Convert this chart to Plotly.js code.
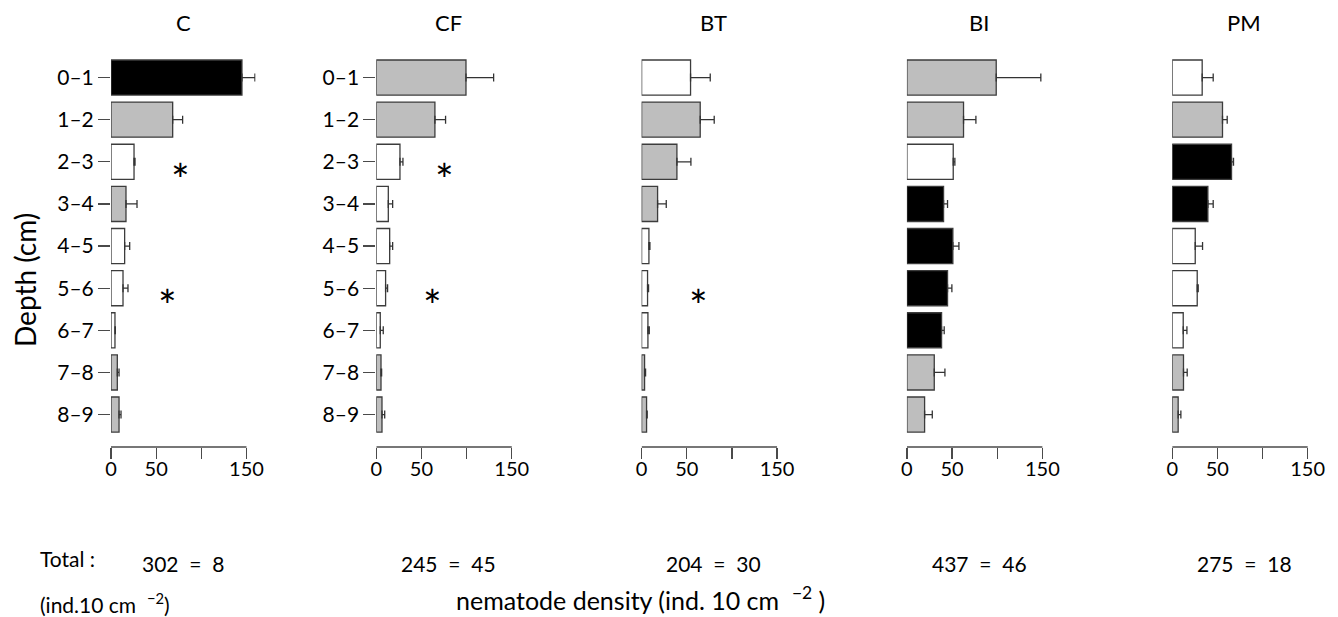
<!DOCTYPE html>
<html>
<head>
<meta charset="utf-8">
<script src="https://cdn.plot.ly/plotly-3.0.1.min.js"></script>
<style>html,body{margin:0;padding:0;background:#fff;}#chart{width:1338px;height:617px;}</style>
</head>
<body>
<div id="chart"></div>
<script>
// ---- data ----
const depths = ['0–1','1–2','2–3','3–4','4–5','5–6','6–7','7–8','8–9'];
const sites = ['C','CF','BT','BI','PM'];

const densC  = [145.0, 68.3, 25.5, 16.6, 15.1, 13.3, 4.4, 7.0, 8.9];
const seC    = [14.4, 11.0, 1.1, 12.2, 5.6, 5.5, 0.4, 1.9, 2.2];
const fillC  = ['k','g','w','g','w','w','w','g','g'];

const densCF = [99.3, 64.9, 26.2, 13.3, 14.8, 10.3, 4.4, 5.2, 6.3];
const seCF   = [30.6, 11.8, 3.3, 4.8, 3.3, 2.2, 3.3, 0.7, 3.0];
const fillCF = ['g','g','w','w','w','w','w','g','g'];

const densBT = [54.2, 64.9, 39.1, 17.7, 8.1, 6.6, 7.0, 3.3, 5.5];
const seBT   = [21.8, 15.5, 15.5, 9.6, 1.1, 1.1, 1.5, 1.1, 0.7];
const fillBT = ['w','g','g','g','w','w','w','g','g'];

const densBI = [98.9, 62.7, 51.3, 40.6, 50.9, 45.0, 38.4, 30.3, 19.6];
const seBI   = [49.4, 13.7, 1.8, 4.4, 6.7, 4.8, 2.9, 11.8, 8.5];
const fillBI = ['g','g','w','k','k','k','k','g','g'];

const densPM = [33.2, 55.7, 65.7, 39.5, 25.5, 27.7, 12.2, 12.5, 6.6];
const sePM   = [12.2, 5.2, 2.2, 5.9, 8.1, 1.1, 4.1, 4.1, 3.0];
const fillPM = ['w','g','k','k','w','w','w','g','g'];

const totalMean = [302, 245, 204, 437, 275];
const totalSE   = [8, 45, 30, 46, 18];

// significance asterisks: panel index, depth label, x position (density units)
const starPanel = [0, 0, 1, 1, 2];
const starDepth = ['2–3', '5–6', '2–3', '5–6', '5–6'];
const starX     = [76.5, 63, 75.6, 62.7, 63.4];

const xTickVals = [0, 50, 100, 150];
const xTickText = ['0', '50', '', '150'];

// ---- build ----
const dens = [densC, densCF, densBT, densBI, densPM];
const ses  = [seC, seCF, seBT, seBI, sePM];
const fills = [fillC, fillCF, fillBT, fillBI, fillPM];
const colorMap = {k: '#000000', g: '#bebebe', w: '#ffffff'};

const W = 1338, H = 617;
const FONT = 'Lato, "Open Sans", sans-serif';
const lineCol = '#4a4a4a';
const plotTop = 45.1, plotBot = 447;
const firstLeft = 111, panelStep = 265.3, panelW = 144.5;
const xMax = 160;
const NB = '\u00a0';

const traces = [];
const layout = {
  width: W, height: H, autosize: false,
  margin: {l: 0, r: 0, t: 0, b: 0},
  paper_bgcolor: '#fff', plot_bgcolor: 'rgba(0,0,0,0)',
  showlegend: false,
  bargap: 1 - 1/1.2,
  font: {family: FONT, color: '#000', size: 18},
  shapes: [], annotations: []
};

sites.forEach((s, i) => {
  const n = i === 0 ? '' : String(i + 1);
  traces.push({
    type: 'bar', orientation: 'h',
    x: dens[i], y: depths,
    xaxis: 'x' + n, yaxis: 'y' + n,
    marker: {color: fills[i].map(c => colorMap[c]), line: {color: '#3c3c3c', width: 1.3}},
    error_x: {type: 'data', symmetric: false, array: ses[i], arrayminus: ses[i].map(() => 0),
              color: '#333', thickness: 1.3, width: 4},
    hoverinfo: 'x+y'
  });
  const left = (firstLeft + panelStep * i) / W;
  const right = (firstLeft + panelStep * i + panelW) / W;
  layout['xaxis' + n] = {
    domain: [left, right], range: [0, xMax], anchor: 'y' + n,
    tickvals: xTickVals, ticktext: xTickText,
    ticks: 'outside', ticklen: 11, tickwidth: 1.3, tickcolor: lineCol,
    ticklabelstandoff: -7,
    showline: false, showgrid: false, zeroline: false,
    tickfont: {size: 20, family: FONT}, fixedrange: true
  };
  const showY = i < 2;
  layout['yaxis' + n] = {
    domain: [1 - plotBot / H, 1 - plotTop / H], anchor: 'x' + n,
    type: 'category', categoryorder: 'array', categoryarray: depths,
    range: [8.77, -0.77],
    ticks: showY ? 'outside' : '', ticklen: 12, tickwidth: 1.3, tickcolor: lineCol,
    showticklabels: showY, showline: false, showgrid: false, zeroline: false,
    tickfont: {size: 21, family: FONT}, fixedrange: true
  };
  // axis line spanning the tick range only
  layout.shapes.push({
    type: 'line', xref: 'x' + n, yref: 'y' + n + ' domain',
    x0: xTickVals[0], x1: xTickVals[xTickVals.length - 1], y0: 0, y1: 0,
    line: {color: lineCol, width: 1.3}
  });
  // panel title
  layout.annotations.push({
    text: s, xref: 'x' + n + ' domain', yref: 'paper', x: 0.5, y: 1 - 23 / H,
    xanchor: 'center', yanchor: 'middle', showarrow: false,
    font: {size: 22, family: FONT}
  });
  // totals
  layout.annotations.push({
    text: totalMean[i] + NB + NB + '=' + NB + NB + totalSE[i], xref: 'x' + n + ' domain', yref: 'paper',
    x: 0.5, y: 1 - 563 / H, xanchor: 'center', yanchor: 'middle', showarrow: false,
    font: {size: 21, family: FONT}
  });
});

starPanel.forEach((p, k) => {
  const n = p === 0 ? '' : String(p + 1);
  layout.annotations.push({
    text: '*', xref: 'x' + n, yref: 'y' + n, x: starX[k], y: starDepth[k],
    xanchor: 'center', yanchor: 'middle', yshift: -17, showarrow: false,
    font: {size: 44, family: FONT}
  });
});

layout.annotations.push(
  {text: 'Depth (cm)', xref: 'paper', yref: 'paper', x: 25 / W, y: 1 - 280 / H,
   textangle: -90, xanchor: 'center', yanchor: 'middle', showarrow: false,
   font: {size: 28, family: FONT}},
  {text: 'Total' + NB + ':', xref: 'paper', yref: 'paper', x: 38 / W, y: 1 - 558 / H,
   xanchor: 'left', yanchor: 'middle', showarrow: false, font: {size: 21, family: FONT}},
  {text: '(ind.10 cm' + NB + NB + '<sup>−2</sup>)', xref: 'paper', yref: 'paper', x: 38 / W, y: 1 - 603 / H,
   xanchor: 'left', yanchor: 'middle', showarrow: false, font: {size: 21, family: FONT}},
  {text: 'nematode density (ind. 10 cm' + NB + NB + '<sup>−2</sup>' + NB + ')', xref: 'paper', yref: 'paper', x: 640 / W, y: 1 - 598 / H,
   xanchor: 'center', yanchor: 'middle', showarrow: false, font: {size: 25, family: FONT}}
);

Plotly.newPlot('chart', traces, layout, {displayModeBar: false, staticPlot: true});
</script>
</body>
</html>
